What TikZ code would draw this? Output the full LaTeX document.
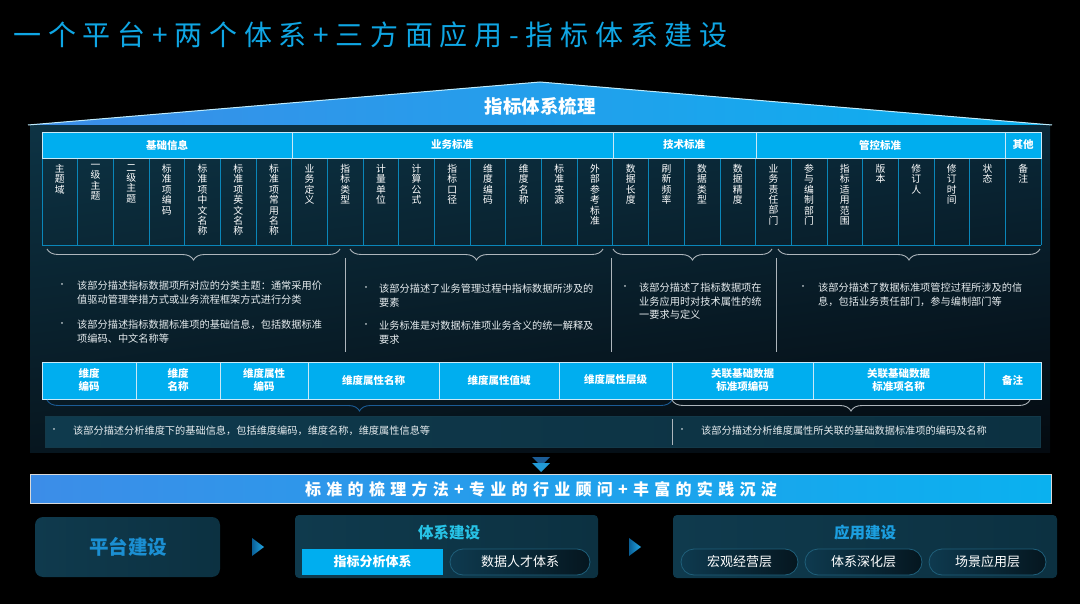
\documentclass[tikz,border=0pt]{standalone}
\usepackage{fontspec}
\setmainfont{Noto Sans CJK SC}
\usepackage{tikz}
\usetikzlibrary{decorations.pathreplacing,shadings}
\XeTeXlinebreaklocale "zh"
\XeTeXlinebreakskip=0pt plus 1pt

\definecolor{zcyan}{HTML}{00AEEF}
\definecolor{ztitle}{HTML}{0FA6E4}
\definecolor{zline}{HTML}{0A86B9}
\definecolor{zedge}{HTML}{C9E9F7}
\definecolor{zgrey}{HTML}{AEB6BC}
\definecolor{zbrace}{HTML}{1B5C96}
\definecolor{zdesc}{HTML}{E6ECEF}
\definecolor{zroofL}{HTML}{3C8DE8}
\definecolor{zroofR}{HTML}{0AB1EF}
\definecolor{zpanUL}{HTML}{0D3344}
\definecolor{zpanUR}{HTML}{0A2838}
\definecolor{zpanLL}{HTML}{07161F}
\definecolor{zpanLR}{HTML}{040A10}
\definecolor{zboxL}{HTML}{0F3A4D}
\definecolor{zboxM}{HTML}{061720}
\definecolor{zboxR}{HTML}{0C3141}
\definecolor{zpillL}{HTML}{0E3A4F}
\definecolor{zpillR}{HTML}{05161F}
\definecolor{zpillrim}{HTML}{1F5F7A}
\definecolor{zplat}{HTML}{1B8FD2}
\definecolor{zsys}{HTML}{27C3E6}
\definecolor{zapp}{HTML}{1C9FE0}
\definecolor{zarrL}{HTML}{0A5F95}
\definecolor{zarrR}{HTML}{22A9E8}

\begin{document}
\begin{tikzpicture}[x=1pt,y=-1pt,
    colhead/.style={anchor=north,inner sep=0pt,text=white,text width=10pt,
      align=center,font=\fontsize{9.8}{10.4}\selectfont},
    grphead/.style={text=white,font=\bfseries\fontsize{10.5}{12}\selectfont},
    cellhead/.style={text=white,align=center,font=\bfseries\fontsize{10.5}{13}\selectfont},
    desc/.style={anchor=north west,inner sep=0pt,align=left,text=zdesc,
      font=\fontsize{10.2}{13.5}\selectfont},
    bul/.style={inner sep=0pt,text=zdesc,font=\fontsize{8}{8}\selectfont},
    brc/.style={decorate,decoration={brace,mirror,amplitude=11pt},line width=0.9pt},
    sepline/.style={zgrey,line width=0.9pt},
    bigbox/.style={rounded corners=4pt,left color=zboxL,middle color=zboxM,right color=zboxR},
    pill/.style={draw=zpillrim,line width=0.8pt,rounded corners=13pt,minimum width=117pt,
      minimum height=26pt,left color=zpillL,right color=zpillR,text=white,
      font=\fontsize{13}{15}\selectfont},
    playarrow/.style={left color=zarrL,right color=zarrR}]
  \fill[black] (0,0) rectangle (1080,604);
  \useasboundingbox (0,0) rectangle (1080,604);
  \node[anchor=west,text=ztitle,
    font=\fontsize{28}{32}\selectfont\addfontfeature{LetterSpace=24}] (title) at (10,35)
    {一个平台+两个体系+三方面应用-指标体系建设};
  % panel and roof
  \shade[upper left=zpanUL,upper right=zpanUR,lower left=zpanLL,lower right=zpanLR]
    (30,125) rectangle (1050,452);
  \shade[left color=zroofL,right color=zroofR] (28,125) -- (540,82) -- (1052,125) -- cycle;
  \draw[white!75!zcyan,line width=1pt] (28,125) -- (540,82) -- (1052,125);
  \node[text=white,font=\bfseries\fontsize{18.5}{20}\selectfont] (roof) at (540,106) {指标体系梳理};
  % first table
  \fill[zcyan] (42,132) rectangle (1041,158);
  \foreach \i in {0,...,28}
    \draw[zline,line width=0.8pt] ({42+\i*35.68},158) -- ({42+\i*35.68},245);
  \draw[zline,line width=0.8pt] (42,245) -- (1041,245);
  \foreach \x in {292,613,756,1005}
    \draw[zedge,line width=0.8pt] (\x,132) -- (\x,158);
  \draw[zedge,line width=0.8pt] (42,132) rectangle (1041,158);
  \node[grphead] (G1) at (167,145) {基础信息};
  \node[grphead] (G2) at (452,145) {业务标准};
  \node[grphead] (G3) at (684,145) {技术标准};
  \node[grphead] (G4) at (880,145) {管控标准};
  \node[grphead] (G5) at (1023,145) {其他};
  \foreach \t [count=\i] in {主题域,一级主题,二级主题,标准项编码,标准项中文名称,标准项英文名称,
      标准项常用名称,业务定义,指标类型,计量单位,计算公式,指标口径,维度编码,维度名称,标准来源,
      外部参考标准,数据长度,刷新频率,数据类型,数据精度,业务责任部门,参与编制部门,指标适用范围,
      版本,修订人,修订时间,状态,备注}
    \node[colhead] (C\i) at ({42+(\i-0.5)*35.68},164) {\t};
  % braces and notes
  \draw[brc,zgrey] (47,249) -- (340,249);
  \draw[brc,zgrey] (350,249) -- (603,249);
  \draw[brc,zgrey] (613,249) -- (772,249);
  \draw[brc,zgrey] (778,249) -- (1040,249);
  \draw[sepline] (345,258) -- (345,352);
  \draw[sepline] (611,258) -- (611,352);
  \draw[sepline] (776,258) -- (776,352);
  \node[bul] (B1) at (62,286) {•};
  \node[desc] (D1) at (77,281) {该部分描述指标数据项所对应的分类主题：通常采用价\\值驱动管理举措方式或业务流程框架方式进行分类};
  \node[bul] (B2) at (62,325) {•};
  \node[desc] (D2) at (77,320) {该部分描述指标数据标准项的基础信息，包括数据标准\\项编码、中文名称等};
  \node[bul] (B3) at (366,289) {•};
  \node[desc] (D3) at (379,284) {该部分描述了业务管理过程中指标数据所涉及的\\要素};
  \node[bul] (B4) at (366,326) {•};
  \node[desc] (D4) at (379,321) {业务标准是对数据标准项业务含义的统一解释及\\要求};
  \node[bul] (B5) at (625,288) {•};
  \node[desc] (D5) at (639,283) {该部分描述了指标数据项在\\业务应用时对技术属性的统\\一要求与定义};
  \node[bul] (B6) at (803,288) {•};
  \node[desc] (D6) at (818,283) {该部分描述了数据标准项管控过程所涉及的信\\息，包括业务责任部门，参与编制部门等};
  % second table
  \fill[zcyan] (42,362) rectangle (1041,399);
  \foreach \x in {136,220,308,439,559,672,813,984}
    \draw[zedge,line width=0.8pt] (\x,362) -- (\x,399);
  \draw[zedge,line width=0.8pt] (42,362) rectangle (1041,399);
  \node[cellhead] (H1) at (89,380) {维度\\编码};
  \node[cellhead] (H2) at (178,380) {维度\\名称};
  \node[cellhead] (H3) at (264,380) {维度属性\\编码};
  \node[cellhead] (H4) at (373.5,380) {维度属性名称};
  \node[cellhead] (H5) at (499,380) {维度属性值域};
  \node[cellhead] (H6) at (615.5,380) {维度属性层级};
  \node[cellhead] (H7) at (742.5,380) {关联基础数据\\标准项编码};
  \node[cellhead] (H8) at (898.5,380) {关联基础数据\\标准项名称};
  \node[cellhead] (H9) at (1012.5,380) {备注};
  \draw[brc,zbrace] (47,400) -- (672,400);
  \draw[brc,zgrey] (672,400) -- (1030,400);
  \shade[left color=zboxL,middle color=zboxM,right color=zboxR] (45,416) rectangle (1040,447);
  \draw[zpillrim!60!black,line width=0.6pt] (45,416) rectangle (1040,447);
  \draw[sepline] (672,419) -- (672,445);
  \node[bul] (B7) at (54,431) {•};
  \node[desc,anchor=west] (D7) at (73,431) {该部分描述分析维度下的基础信息，包括维度编码，维度名称，维度属性信息等};
  \node[bul] (B8) at (682,431) {•};
  \node[desc,anchor=west] (D8) at (701,431) {该部分描述分析维度属性所关联的基础数据标准项的编码及名称};
  % chevron and banner
  \fill[zbrace] (532,457) -- (550,457) -- (541,466) -- cycle;
  \fill[zarrR!80!zbrace] (532,463) -- (550,463) -- (541,472) -- cycle;
  \shade[left color=zroofL,right color=zroofR] (30,474) rectangle (1051,503);
  \draw[white!70!gray,line width=0.8pt] (30,474) rectangle (1051,503);
  \node[text=white,font=\fontsize{16}{18}\selectfont\bfseries\addfontfeature{LetterSpace=33}]
    (banner) at (541,489) {标准的梳理方法+专业的行业顾问+丰富的实践沉淀};
  % bottom row
  \shade[rounded corners=8pt,left color=zboxL,middle color=zboxM,right color=zboxR]
    (35,517) rectangle (220,577);
  \node[text=zplat,font=\bfseries\fontsize{19.5}{22}\selectfont] (plat) at (128,547) {平台建设};
  \shade[playarrow] (252,538) -- (264,547) -- (252,556) -- cycle;
  \shade[bigbox] (295,515) rectangle (598,578);
  \node[text=zsys,font=\bfseries\fontsize{15.5}{18}\selectfont] (sys) at (449,533) {体系建设};
  \node[fill=zcyan,minimum width=141pt,minimum height=26pt,text=white,
    font=\bfseries\fontsize{13}{15}\selectfont] (sysA) at (372.5,562) {指标分析体系};
  \node[pill,minimum width=140pt] (sysB) at (520,562) {数据人才体系};
  \shade[playarrow] (629,538) -- (641,547) -- (629,556) -- cycle;
  \shade[bigbox] (673,515) rectangle (1057,578);
  \node[text=zapp,font=\bfseries\fontsize{15.5}{18}\selectfont] (app) at (865,533) {应用建设};
  \node[pill] (appA) at (739.5,562) {宏观经营层};
  \node[pill] (appB) at (863.5,562) {体系深化层};
  \node[pill] (appC) at (987.5,562) {场景应用层};
\end{tikzpicture}
\end{document}
